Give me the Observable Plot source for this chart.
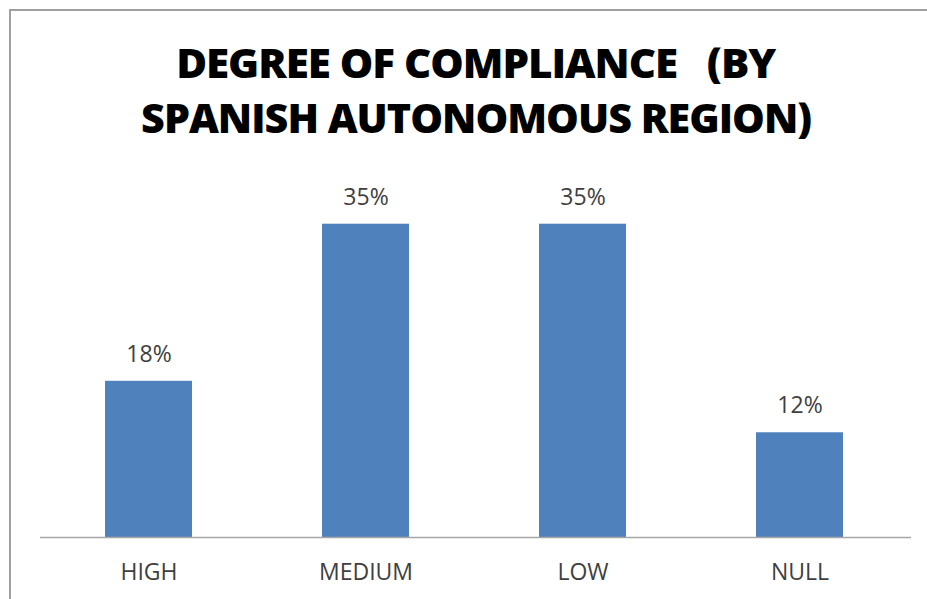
<!DOCTYPE html>
<html>
<head>
<meta charset="utf-8">
<script src="https://cdn.jsdelivr.net/npm/d3@7"></script>
<script src="https://cdn.jsdelivr.net/npm/@observablehq/plot@0.6"></script>
<style>
html, body { margin: 0; padding: 0; background: #fff; }
#page { position: relative; width: 927px; height: 599px; overflow: hidden; background: #fff; }
#frame { position: absolute; left: 9px; top: 9px; right: -5px; bottom: -5px;
  border-top: 2px solid #a0a0a0; border-left: 2px solid #a0a0a0; }
#title { position: absolute; left: 0; width: 952px; top: 35px; text-align: center;
  font-family: "Open Sans", "Liberation Sans Narrow", sans-serif;
  font-weight: 800; font-size: 41px; line-height: 55px; color: #000; letter-spacing: -1px; }
#title div { white-space: pre; }
#title span { display: inline-block; white-space: pre; transform-origin: center; }
#chart { position: absolute; left: 0; top: 160px; }
</style>
</head>
<body>
<div id="page">
  <div id="frame"></div>
  <div id="title">
    <div><span id="t1">DEGREE OF COMPLIANCE   (BY</span></div>
    <div><span id="t2">SPANISH AUTONOMOUS REGION)</span></div>
  </div>
  <div id="chart"></div>
</div>
<script>
const categories = ["HIGH", "MEDIUM", "LOW", "NULL"];
const values = [17.6, 35.3, 35.3, 11.8];
const valueLabels = ["18%", "35%", "35%", "12%"];

const data = categories.map((c, i) => ({category: c, value: values[i], label: valueLabels[i]}));

const chart = Plot.plot({
  width: 927,
  height: 439,
  marginLeft: 40,
  marginRight: 16,
  marginTop: 22,
  marginBottom: 62,
  style: {fontFamily: "'Open Sans', sans-serif", background: "transparent"},
  x: {domain: categories, paddingInner: 0.6, paddingOuter: 0.3, align: 0.49, label: null},
  y: {domain: [0, 40], axis: null},
  marks: [
    Plot.barY(data, {x: "category", y: "value", fill: "#4f81bd"}),
    Plot.ruleY([0], {stroke: "#a6a6a6", strokeWidth: 1.5}),
    Plot.text(data, {x: "category", y: "value", text: "label", dy: -27, fontSize: 23, fill: "#404040"}),
    Plot.axisX({tickSize: 0, tickPadding: 26, fontSize: 23, fill: "#404040", label: null})
  ]
});
document.getElementById("chart").appendChild(chart);

function fit(id, target) {
  const el = document.getElementById(id);
  const w = el.getBoundingClientRect().width;
  if (w > 0) el.style.transform = `scaleX(${target / w})`;
}
fit("t1", 599);
fit("t2", 670);
</script>
</body>
</html>
